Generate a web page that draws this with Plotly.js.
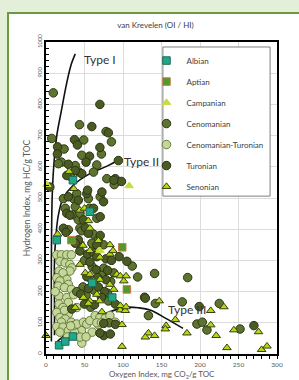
<!DOCTYPE html>
<html><head><meta charset="utf-8">
<script src="https://cdn.plot.ly/plotly-3.0.1.min.js"></script>
<style>html,body{margin:0;padding:0;background:#e3efd9;}#chart{width:299px;height:380px;}</style>
</head><body><div id="chart"></div>
<script>
// ---- data ----
const albianX = [35,57,14,60,86,17,25,35];
const albianY = [557,456,365,228,181,28,40,56];
const aptianX = [33,99,105];
const aptianY = [365,342,207];
const campanianX = [108,1,70];
const campanianY = [539,543,331];
const cenomanianX = [9.5,43.5,78,7.4,49,85,23.5,72,46.5,20,38,66,79,91,88.6,32,16,61.7,43,22.6,35.6,55,70.4,25,35.6,42,29,44,46.5,61.7,68,44,59.6,74.7,40,38,56.5,44,66,
  119,141,184,142,177,225,196,203,209,252,112,133,128,50,60,75,88,58,72,84,48,62,40,52,80,81,58,82];
const cenomanianY = [837,735,713,691,686,680,657,641,637,615,604,606,562,551,543,569,610,583,583,498,498,498,504,467,446,430,398,403,395,384,366,352,355,350,514,472,467,451,435,
  247,258,245,162,167,162,96,102,77,80,282,123,182,300,280,275,260,242,252,232,215,205,200,188,195,170,150,100];
const cenTurX = [14,20,27,33,18,25,31,33.5,17,31,22,14,27,18,29,16,24,33,17,27,29,17,22,40,14,29,18,25,20,33,14,22,29,46,18,37,46.5,44,35.6,40,48.6,53,57,64,70,77,83,68,66,72,90,60,12,36,24,32,28,52];
const cenTurY = [318,318,318,318,297,292,287,276,266,266,260,244,239,234,223,218,213,207,186,181,165,160,149,149,133,128,117,112,102,102,88,86,75,75,70,70,35,54,91,96,102,96,107,123,117,115,123,94,100,100,102,70,200,190,140,90,55,55];
const turonianX = [70,59.5,81,37,40.8,15,70,14.8,56.5,29,52,94,90,98,27,5,46.5,38,88,29,53,72.6,74.7,27,70.4,22.6,26,51,55,70.4,42,38,66,42,54,31,61.7,48.6,
  44,54,62,66,78,85,95,105,57,65,80,53,67,78,55,68,45,76,72,90,33.5,50,63,75,83.5,70,75,90,199,270,129];
const turonianY = [800,729,709,687,670,664,662,641,634,608,615,620,562,553,572,535,578,588,557,504,514,519,488,451,440,403,390,405,387,380,366,355,350,493,525,445,467,430,
  330,320,325,312,305,300,312,297,295,270,268,248,245,238,210,215,192,200,182,160,144,160,158,59,64,67,98,95,152,91,179];
const senonianX = [30,36,44,50,55,57,15,48,68,83,
  57,68,83,87,70,44,51,57,62,70,92,96.5,104,101,83,88,66,57,69.5,48.6,38,72.6,55,
  98.7,98.7,0,96.5,103,133,129,141,147,156,155,168,183,214,231,214,221,235,244,276,280,287,96.5,104];
const senonianY = [585,530,461,467,427,403,384,348,363,350,
  331,334,320,331,310,287,260,255,234,239,255,250,250,234,223,207,191,170,170,181,149,135,162,
  94,24,59,141,139,67,54,59,170,91,80,110,67,139,151,93,59,20,77,71,14,25,155,151];
// classification curves
const typeIX = [38,33,27,20,14,10,8,7,7,7];
const typeIY = [962,930,870,780,700,600,500,300,100,40];
const typeIIX = [94,80,57,35,22,16,13,11,11,11];
const typeIIY = [622,603,578,540,498,444,381,300,150,60];
const typeIIIX = [12,20,30,48,70,92,105,120,136,155,178];
const typeIIIY = [33,52,68,92,122,143,150,148,140,115,82];
const xTicks = [0,50,100,150,200,250,300];
const yTicks = [0,100,200,300,400,500,600,700,800,900,1000];

const FONT = 'Lato, "Open Sans", sans-serif';
function pts(name, x, y, symbol, fill, line, size){
  return {type:'scatter', mode:'markers', name:name, x:x, y:y, legendgroup:name,
    marker:{symbol:symbol, color:fill, size:size, line:{color:line, width:1}}, cliponaxis:false};
}
function curve(x,y){
  return {type:'scatter', mode:'lines', x:x, y:y, showlegend:false, hoverinfo:'skip',
    line:{color:'#111', width:1.6, shape:'spline', smoothing:1}};
}
const traces = [
  curve(typeIX,typeIY), curve(typeIIX,typeIIY), curve(typeIIIX,typeIIIY),
  pts('Cenomanian-Turonian', cenTurX, cenTurY, 'circle', '#c4d79b', '#6b7d3b', 8.5),
  pts('Cenomanian', cenomanianX, cenomanianY, 'circle', '#5d7330', '#2e3814', 8.5),
  pts('Turonian', turonianX, turonianY, 'circle', '#4a5c24', '#2a3312', 8.5),
  pts('Senonian', senonianX, senonianY, 'triangle-up', '#b4d90f', '#3a3d14', 7.5),
  pts('Campanian', campanianX, campanianY, 'triangle-up', '#c8dc3c', '#c8dc3c', 7.5),
  pts('Albian', albianX, albianY, 'square', '#22a789', '#1b6b58', 7.5),
  pts('Aptian', aptianX, aptianY, 'square', '#4f9a28', '#c87a4a', 7.5)
];
const order = ['Albian','Aptian','Campanian','Cenomanian','Cenomanian-Turonian','Turonian','Senonian'];
traces.forEach(t=>{ if(t.name){ t.legendrank = order.indexOf(t.name)+1; }});

const layout = {
  width:299, height:380,
  margin:{l:46, r:22, t:42, b:26},
  paper_bgcolor:'#e3efd9', plot_bgcolor:'#ffffff',
  font:{family:FONT, color:'#595959'},
  title:{text:'van Krevelen (OI / HI)', font:{size:8, color:'#404040', family:FONT}, x:0.52, xanchor:'center', y:0.935, yanchor:'middle'},
  showlegend:true,
  legend:{x:0.435, xanchor:'left', y:0.987, yanchor:'top', bgcolor:'rgba(0,0,0,0)', borderwidth:0,
    font:{size:8, color:'#404040', family:FONT}, traceorder:'grouped', tracegroupgap:2, itemclick:false},
  xaxis:{range:[0,300], tickvals:xTicks, ticktext:xTicks.map(String), showgrid:true, gridcolor:'#dcdcdc', gridwidth:1,
    zeroline:false, showline:true, linecolor:'#000', linewidth:2, mirror:true,
    ticks:'outside', ticklen:3, tickcolor:'#000', tickfont:{size:6.5, color:'#595959'},
    minor:{dtick:10, ticks:'outside', ticklen:3, tickcolor:'#000', showgrid:false}},
  yaxis:{range:[0,1000], tickvals:yTicks, ticktext:yTicks.map(String), showgrid:true, gridcolor:'#dcdcdc', gridwidth:1,
    zeroline:false, showline:true, linecolor:'#000', linewidth:2, mirror:true,
    ticks:'inside', ticklen:3, tickcolor:'#000', tickfont:{size:6, color:'#595959'}, tickangle:-90,
    minor:{dtick:20, ticks:'inside', ticklen:3, tickcolor:'#000', showgrid:false},
    title:{text:'Hydrogen Index, mg HC/g TOC', font:{size:8.5, color:'#595959'}, standoff:4}},
  shapes:[
    {type:'rect', xref:'paper', yref:'paper', x0:-0.1645, x1:1.3, y0:-0.3, y1:1.093, layer:'below',
      fillcolor:'#ffffff', line:{color:'#6a9a3c', width:2}},
    {type:'rect', xref:'paper', yref:'paper', x0:0.506, x1:0.970, y0:0.506, y1:0.984, layer:'above',
      fillcolor:'#ffffff', line:{color:'#7f7f7f', width:1}}
  ],
  annotations:[
    {x:0.5, y:-0.066, xref:'paper', yref:'paper', text:'Oxygen Index, mg CO<sub>2</sub>/g TOC', showarrow:false,
      xanchor:'center', yanchor:'middle', font:{size:8, color:'#595959', family:FONT}},
    {x:47, y:943, xref:'x', yref:'y', text:'Type I', showarrow:false, xanchor:'left', yanchor:'middle', font:{size:12, color:'#333', family:FONT}},
    {x:98.7, y:616, xref:'x', yref:'y', text:'Type II', showarrow:false, xanchor:'left', yanchor:'middle', font:{size:12, color:'#333', family:FONT}},
    {x:156, y:143, xref:'x', yref:'y', text:'Type III', showarrow:false, xanchor:'left', yanchor:'middle', font:{size:12, color:'#333', family:FONT}}
  ]
};
Plotly.newPlot('chart', traces, layout, {staticPlot:true, displayModeBar:false});
</script></body></html>
